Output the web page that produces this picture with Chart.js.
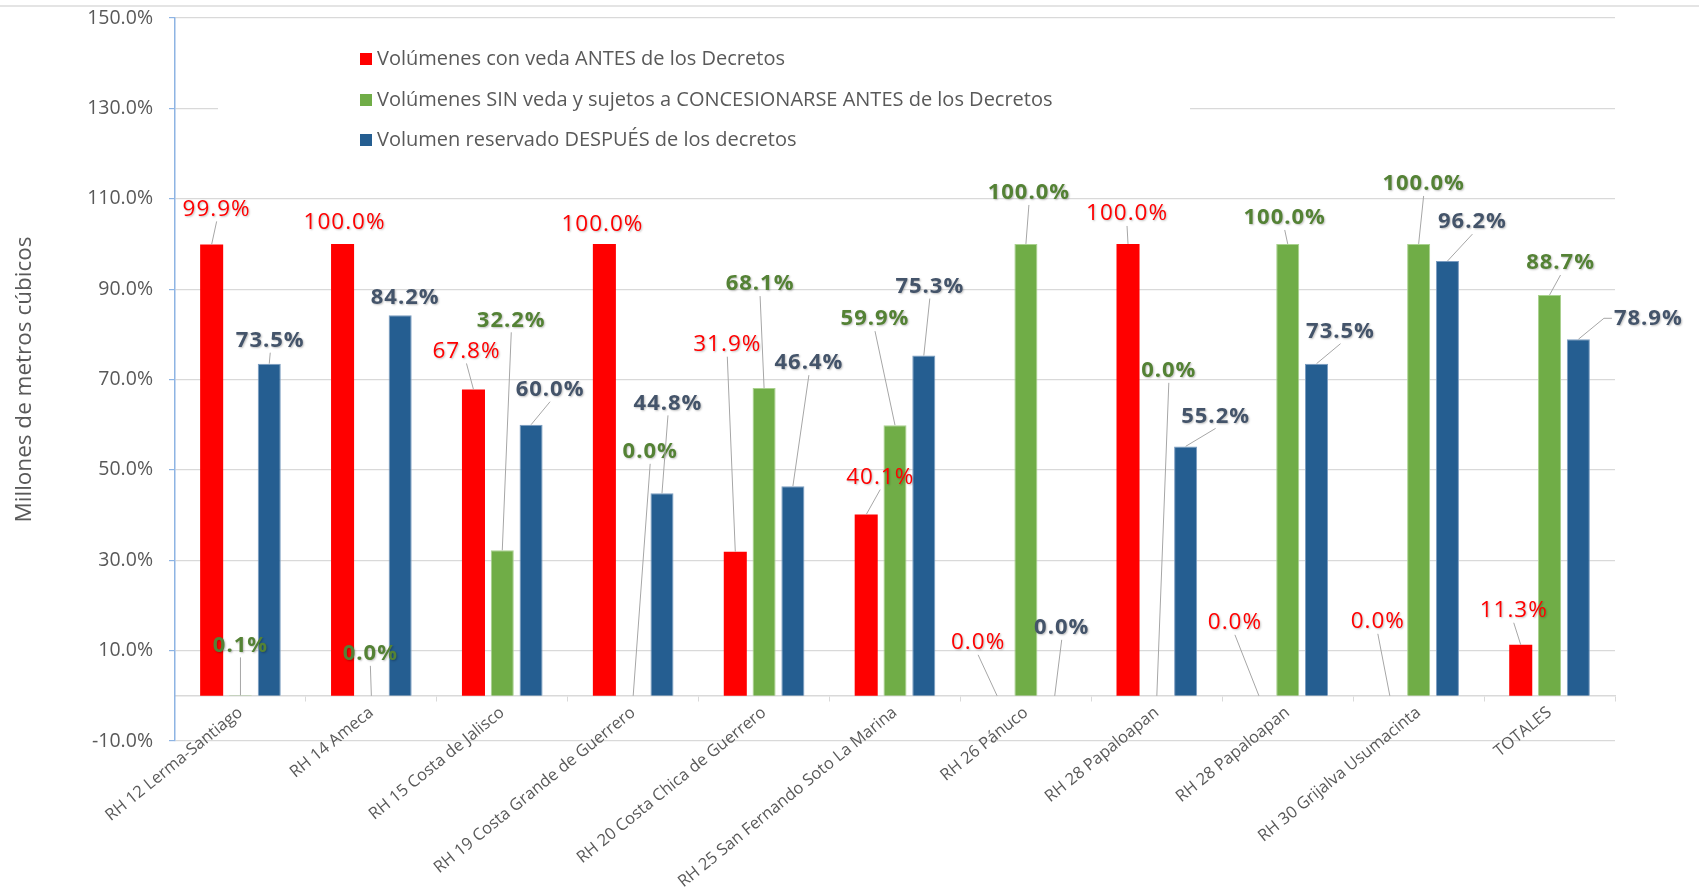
<!DOCTYPE html>
<html>
<head>
<meta charset="utf-8">
<script src="https://cdn.jsdelivr.net/npm/chart.js@4"></script>
<style>
  body { margin: 0; background: #fff; }
  #wrap { position: relative; width: 1699px; height: 890px; }
  #topline { position: absolute; left: 0; right: 0; top: 5px; border-top: 2px solid #e4e4e4; }
</style>
</head>
<body>
<div id="wrap">
  <div id="topline"></div>
  <canvas id="chart"></canvas>
</div>
<script>
const categories = [
  "RH 12 Lerma-Santiago", "RH 14 Ameca", "RH 15 Costa de Jalisco",
  "RH 19 Costa Grande de Guerrero", "RH 20 Costa Chica de Guerrero",
  "RH 25 San Fernando Soto La Marina", "RH 26 Pánuco", "RH 28 Papaloapan",
  "RH 28 Papaloapan", "RH 30 Grijalva Usumacinta", "TOTALES"
];
const seriesNames = [
  "Volúmenes con veda ANTES de los Decretos",
  "Volúmenes SIN veda y sujetos a CONCESIONARSE ANTES de los Decretos",
  "Volumen reservado DESPUÉS de los decretos"
];
const vedaAntes = [99.9, 100.0, 67.8, 100.0, 31.9, 40.1, 0.0, 100.0, 0.0, 0.0, 11.3];
const sinVeda = [0.1, 0.0, 32.2, 0.0, 68.1, 59.9, 100.0, 0.0, 100.0, 100.0, 88.7];
const reservado = [73.5, 84.2, 60.0, 44.8, 46.4, 75.3, 0.0, 55.2, 73.5, 96.2, 78.9];
const yMin = -10, yMax = 150, yStep = 20;

// where each data label sits, relative to the top of its bar (px)
const redShift = [[5,-35],[2,-21],[-7,-38],[-2,-19],[-8,-207],[14,-37],[-19,-53],[-1,-30],[-24,-73],[-12,-74],[-7,-34]];
const greenShift = [[0,-50],[-1,-42],[9,-230],[17,-244],[-4,-104],[-20,-106],[3,-51],[12,-325],[-3,-26],[5,-60],[11,-32]];
const blueShift = [[1,-23],[5,-18],[19,-35],[6,-90],[16,-123],[6,-69],[7,-68],[30,-30],[24,-32],[25,-39],[70,-21]];

const textGray = "#595959";

const legendBox = {
  id: "legendBox",
  beforeDatasetsDraw(chart) {
    const ctx = chart.ctx;
    ctx.save();
    ctx.fillStyle = "#fff";
    ctx.fillRect(218, 28, 972, 148);
    ctx.font = '20px "Open Sans"';
    ctx.textBaseline = "middle";
    const rows = [59, 100, 140];
    chart.data.datasets.forEach((ds, i) => {
      ctx.fillStyle = ds.backgroundColor;
      ctx.fillRect(360, rows[i] - 6, 12, 12);
      ctx.fillStyle = textGray;
      ctx.fillText(ds.label, 377, rows[i]);
    });
    ctx.restore();
  }
};

const callouts = {
  id: "callouts",
  afterDatasetsDraw(chart) {
    const ctx = chart.ctx;
    ctx.save();
    ctx.textAlign = "center";
    ctx.textBaseline = "middle";
    ctx.letterSpacing = "1px";
    chart.data.datasets.forEach((ds, i) => {
      const meta = chart.getDatasetMeta(i);
      ctx.font = ds.labelFont;
      meta.data.forEach((bar, j) => {
        const [dx, dy] = ds.labelShift[j];
        const cx = bar.x + dx, cy = bar.y + dy;
        const text = ds.data[j].toFixed(1) + "%";
        const w = ctx.measureText(text).width;
        const x0 = cx - w / 2 - 2, y1 = cy + 12;
        let tx = cx, ty = y1, stub = null;
        if (bar.x < x0 && bar.y - y1 < x0 - bar.x) {
          tx = x0 - 8; ty = cy; stub = x0;
        }
        if (Math.hypot(tx - bar.x, ty - bar.y) > 10) {
          ctx.strokeStyle = "#a6a6a6";
          ctx.lineWidth = 1;
          ctx.beginPath();
          ctx.moveTo(bar.x, bar.y);
          ctx.lineTo(tx, ty);
          if (stub) ctx.lineTo(stub, ty);
          ctx.stroke();
        }
        ctx.shadowColor = "rgba(0,0,0,0.25)";
        ctx.shadowBlur = 2;
        ctx.shadowOffsetX = 1;
        ctx.shadowOffsetY = 1;
        ctx.fillStyle = ds.labelColor;
        ctx.fillText(text, cx, cy);
        ctx.shadowColor = "transparent";
      });
    });
    ctx.restore();
  }
};

new Chart(document.getElementById("chart"), {
  type: "bar",
  data: {
    labels: categories,
    datasets: [
      { label: seriesNames[0], data: vedaAntes, backgroundColor: "#ff0000",
        labelColor: "#ff0000", labelFont: '22.5px "Open Sans"', labelShift: redShift },
      { label: seriesNames[1], data: sinVeda, backgroundColor: "#70ad47", borderColor: "#a9d18e", borderWidth: 1,
        labelColor: "#548235", labelFont: 'bold 22px "Open Sans"', labelShift: greenShift },
      { label: seriesNames[2], data: reservado, backgroundColor: "#255e91", borderColor: "#7a9cc0", borderWidth: 1,
        labelColor: "#44546a", labelFont: 'bold 22px "Open Sans"', labelShift: blueShift }
    ]
  },
  options: {
    responsive: true,
    maintainAspectRatio: false,
    animation: false,
    categoryPercentage: 0.66,
    barPercentage: 0.8,
    layout: { padding: { left: 0, right: 84, top: 18, bottom: 149 } },
    plugins: {
      legend: { display: false },
      tooltip: { enabled: false }
    },
    scales: {
      x: {
        position: { y: 0 },
        afterFit: (s) => { s.height = 0; },
        border: { color: "#d9d9d9", width: 1.5 },
        grid: { drawOnChartArea: false, drawTicks: true, tickLength: 5, color: "#d9d9d9" },
        ticks: {
          color: textGray,
          font: { family: "Open Sans", size: 16.5 },
          minRotation: 39,
          maxRotation: 39,
          autoSkip: false,
          padding: 2
        }
      },
      y: {
        min: yMin,
        max: yMax,
        afterFit: (s) => { s.width = 175; s.paddingTop = 0; s.paddingBottom = 0; },
        border: { color: "#8eb4e3", width: 1.5 },
        grid: { color: "#d9d9d9", lineWidth: 1.2, tickColor: "#8eb4e3", tickLength: 6 },
        ticks: {
          stepSize: yStep,
          color: textGray,
          padding: 16,
          font: { family: "Open Sans", size: 19.5 },
          callback: (v) => v.toFixed(1) + "%"
        },
        title: {
          display: true,
          text: "Millones de metros cúbicos",
          color: textGray,
          font: { family: "Open Sans", size: 22.5 },
          padding: { top: 11 }
        }
      }
    }
  },
  plugins: [legendBox, callouts]
});
</script>
</body>
</html>
